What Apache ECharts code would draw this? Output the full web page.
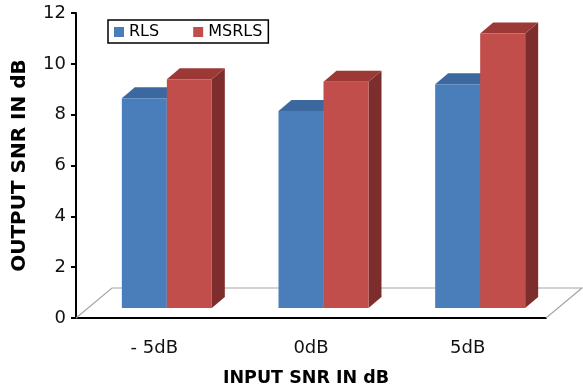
<!DOCTYPE html>
<html>
<head>
<meta charset="utf-8">
<script src="https://cdn.jsdelivr.net/npm/echarts@6/dist/echarts.min.js"></script>
<style>
  html, body { margin: 0; padding: 0; background: #fff; }
  #chart { width: 583px; height: 392px; }
</style>
</head>
<body>
<div id="chart"></div>
<script>
const categories = ["- 5dB", "0dB", "5dB"];
const rls = [8.25, 7.75, 8.8];
const msrls = [9.0, 8.9, 10.8];
const yTicks = { min: 0, max: 12, interval: 2 };

const FONT = "DejaVu Sans";

// 3d look: front face sits a bit behind the axis plane
const FRONT_DX = 12.5, FRONT_DY = -10;
const DEPTH_DX = 13, DEPTH_DY = -11;
const FLOOR_DX = 36, FLOOR_DY = -30;

function shade(side) {
  // side: 0 = left bar, 1 = right bar
  return side === 0
    ? { front: "#4a7ebb", top: "#3b699f", side: "#2f5580" }
    : { front: "#c24e4b", top: "#9c3936", side: "#7d2d2c" };
}

function makeBarRender(side) {
  return function(params, api) {
    const idx = api.value(0);
    const val = api.value(1);
    const base = api.coord([idx, 0]);
    const top = api.coord([idx, val]);
    const w = api.size([1, 0])[0] * 0.2872;
    const x1 = base[0] + FRONT_DX - (side === 0 ? w : 0);
    const x2 = x1 + w;
    const yb = base[1] + FRONT_DY;
    const yt = top[1] + FRONT_DY;
    const c = shade(side);
    return {
      type: "group",
      children: [
        {
          type: "polygon",
          shape: { points: [[x2, yb], [x2 + DEPTH_DX, yb + DEPTH_DY], [x2 + DEPTH_DX, yt + DEPTH_DY], [x2, yt]] },
          style: { fill: c.side }
        },
        {
          type: "polygon",
          shape: { points: [[x1, yt], [x2, yt], [x2 + DEPTH_DX, yt + DEPTH_DY], [x1 + DEPTH_DX, yt + DEPTH_DY]] },
          style: { fill: c.top }
        },
        {
          type: "rect",
          shape: { x: x1, y: yt, width: w, height: yb - yt },
          style: { fill: c.front }
        }
      ]
    };
  };
}

const chart = echarts.init(document.getElementById("chart"));

const option = {
  animation: false,
  backgroundColor: "#fff",
  grid: { left: 76, right: 37, top: 13, bottom: 73 },
  legend: {
    left: 108,
    top: 20,
    padding: [4, 6, 3, 6],
    borderColor: "#000",
    borderWidth: 1.5,
    itemWidth: 10,
    itemHeight: 10,
    itemGap: 34,
    icon: "rect",
    textStyle: { fontFamily: FONT, fontSize: 16, color: "#000" },
    data: ["RLS", "MSRLS"]
  },
  xAxis: {
    type: "category",
    data: categories,
    boundaryGap: true,
    name: "INPUT SNR IN dB",
    nameLocation: "middle",
    nameGap: 51,
    nameTextStyle: { fontFamily: FONT, fontSize: 17.5, fontWeight: "bold", color: "#000", padding: [0, 10, 0, 0] },
    axisLine: { lineStyle: { color: "#000", width: 2 } },
    axisTick: { length: 5, lineStyle: { color: "#000", width: 2 } },
    axisLabel: { fontFamily: FONT, fontSize: 18, color: "#111", margin: 21 },
    splitLine: { show: false }
  },
  yAxis: {
    type: "value",
    min: yTicks.min,
    max: yTicks.max,
    interval: yTicks.interval,
    name: "OUTPUT SNR IN dB",
    nameLocation: "middle",
    nameGap: 46,
    nameTextStyle: { fontFamily: FONT, fontSize: 20, fontWeight: "bold", color: "#000" },
    axisLine: { show: true, lineStyle: { color: "#000", width: 2 } },
    axisTick: { show: true, length: 5, lineStyle: { color: "#000", width: 2 } },
    axisLabel: { fontFamily: FONT, fontSize: 18, color: "#111", margin: 10 },
    splitLine: { show: false }
  },
  series: [
    {
      name: "floor",
      type: "custom",
      z: 1,
      silent: true,
      data: [[0, 0]],
      renderItem: function(params, api) {
        const cs = params.coordSys;
        const yb = cs.y + cs.height;
        const xl = cs.x, xr = cs.x + cs.width;
        return {
          type: "polyline",
          shape: { points: [[xl, yb], [xl + FLOOR_DX, yb + FLOOR_DY], [xr + FLOOR_DX, yb + FLOOR_DY], [xr, yb]] },
          style: { stroke: "#a6a6a6", lineWidth: 1.2, fill: null }
        };
      }
    },
    {
      name: "RLS",
      type: "custom",
      z: 2,
      itemStyle: { color: "#4a7ebb" },
      data: rls.map((v, i) => [i, v]),
      renderItem: makeBarRender(0)
    },
    {
      name: "MSRLS",
      type: "custom",
      z: 3,
      itemStyle: { color: "#c24e4b" },
      data: msrls.map((v, i) => [i, v]),
      renderItem: makeBarRender(1)
    }
  ]
};

chart.setOption(option);
</script>
</body>
</html>
